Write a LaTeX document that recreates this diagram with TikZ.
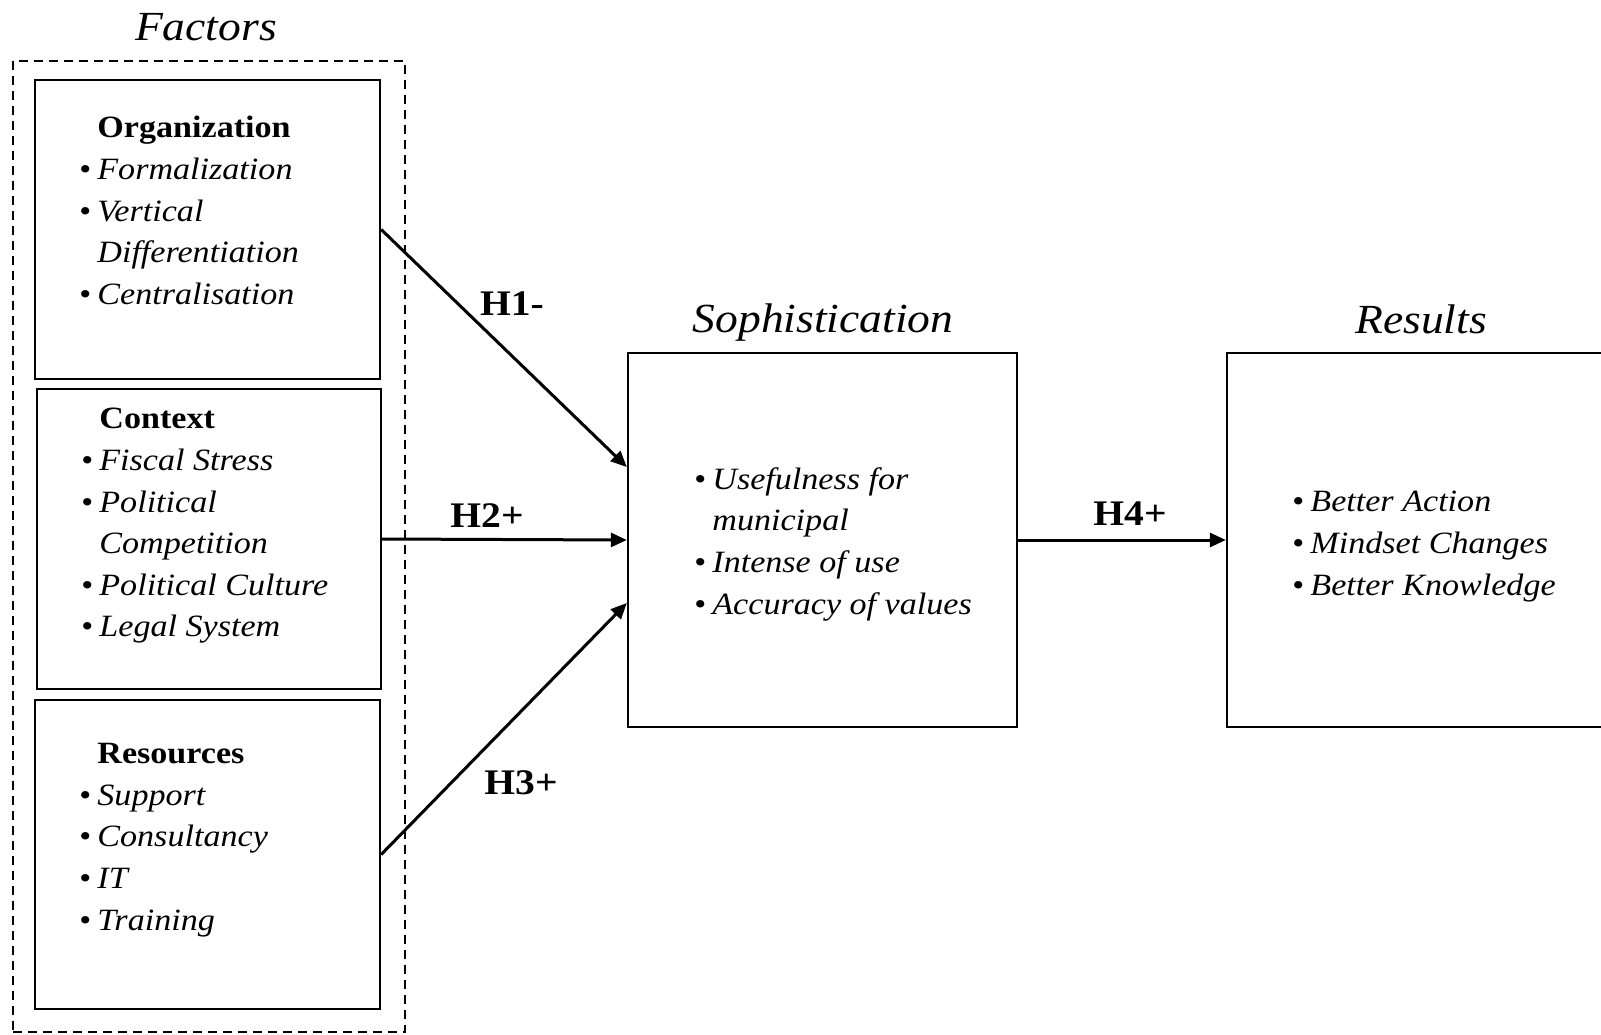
\documentclass[tikz,border=0pt]{standalone}
\usepackage{fontspec}
\setmainfont{Liberation Serif}[FakeStretch=1.1]
\usetikzlibrary{arrows.meta,positioning,calc,fit}
\tikzset{
  grp/.style = {draw,line width=1.3pt,dash pattern=on 4.5pt off 3pt,inner sep=0pt},
  blk/.style = {draw,line width=1.2pt,inner sep=0pt},
  lst/.style = {align=left,inner sep=0pt,anchor=north west,
                font=\fontsize{15.5}{20.8}\selectfont},
  ttl/.style = {anchor=base,inner sep=0pt,font=\fontsize{20.7}{24}\selectfont\itshape},
  hyp/.style = {anchor=base,inner sep=0pt,font=\fontsize{18}{20}\selectfont\bfseries},
  sig/.style = {-{Triangle[length=8pt,width=7pt]},line width=1.5pt},
}
\newcommand{\itm}[1]{\llap{\textbullet\hspace{3pt}}\textit{#1}}

\begin{document}
\begin{tikzpicture}[x=0.5pt,y=-0.5pt]
  \useasboundingbox (0,0) rectangle (1601,1034);
  \clip (0,0) rectangle (1601,1034);

  % factors
  \node[grp,fit={(13,61) (405,1032)}] (factors) {};
  \node[ttl] (factorsttl) at (206,40) {Factors};
  \node[blk,fit={(35,80) (380,379)}] (org) {};
  \node[blk,fit={(37,389) (381,689)}] (ctx) {};
  \node[blk,fit={(35,700) (380,1009)}] (res) {};
  \node[lst] (orgtxt) at (97,116) {\textbf{Organization}\\
        \itm{Formalization}\\ \itm{Vertical}\\ \textit{Differentiation}\\
        \itm{Centralisation}};
  \node[lst] (ctxtxt) at (99,408) {\textbf{Context}\\
        \itm{Fiscal Stress}\\ \itm{Political}\\ \textit{Competition}\\
        \itm{Political Culture}\\ \itm{Legal System}};
  \node[lst] (restxt) at (97,743) {\textbf{Resources}\\
        \itm{Support}\\ \itm{Consultancy}\\ \itm{IT}\\ \itm{Training}};

  % sophistication
  \node[ttl] (sophttl) at (823,332) {Sophistication};
  \node[blk,fit={(628,353) (1017,727)}] (soph) {};
  \node[lst] (sophtxt) at (712,467) {\itm{Usefulness for}\\ \textit{municipal}\\
        \itm{Intense of use}\\ \itm{Accuracy of values}};

  % results
  \node[ttl] (resultsttl) at (1421,333) {Results};
  \node[blk,fit={(1227,353) (1660,727)}] (results) {};
  \node[lst] (resultstxt) at (1310,491) {\itm{Better Action}\\
        \itm{Mindset Changes}\\ \itm{Better Knowledge}};

  % hypotheses
  \draw[sig] (org.east) -- ($(soph.west)+(0,-73)$);
  \draw[sig] (ctx.east) -- (soph.west);
  \draw[sig] (res.east) -- ($(soph.west)+(0,63)$);
  \draw[sig] (soph.east) -- (results.west);
  \node[hyp] (h1) at (512,315) {H1-};
  \node[hyp] (h2) at (487,527) {H2+};
  \node[hyp] (h3) at (521,794) {H3+};
  \node[hyp] (h4) at (1130,525) {H4+};
\end{tikzpicture}
\end{document}
